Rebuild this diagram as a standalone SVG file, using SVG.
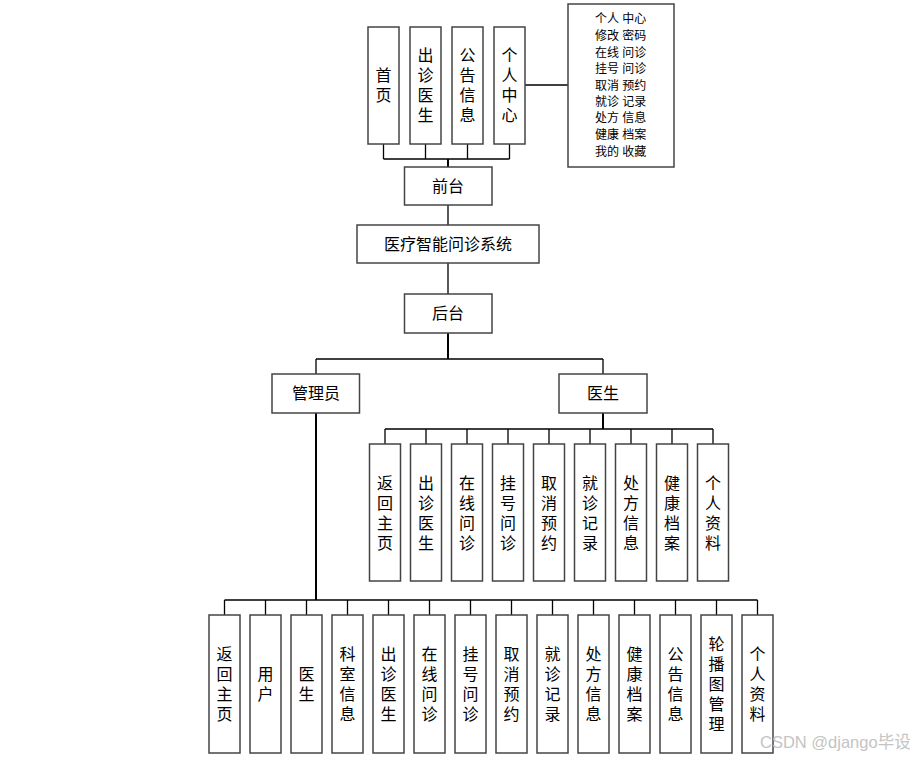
<svg xmlns="http://www.w3.org/2000/svg" width="917" height="757" viewBox="0 0 917 757">
<style>
.box{fill:#fff;stroke:#444;stroke-width:1.5}
.ln{fill:none;stroke:#000;stroke-width:1.3}
.th{fill:none;stroke:#000;stroke-width:2}
.t{font-family:"Liberation Sans","Noto Sans CJK SC",sans-serif;font-size:16px;fill:#000;text-anchor:middle}
.s{font-family:"Liberation Sans","Noto Sans CJK SC",sans-serif;font-size:12px;fill:#000}
.wm{font-family:"Liberation Sans","Noto Sans CJK SC",sans-serif;font-size:16.5px;fill:#c4c4c4}
</style>
<rect width="917" height="757" fill="#fff"/>
<g id="connectors">
<path class="ln" d="M383.5 144V159M425.5 144V159M467.5 144V159M509.5 144V159M383.5 159H509.5"/>
<path class="th" d="M448 159V167"/>
<path class="ln" d="M525 85H568"/>
<path class="ln" d="M448 205V225M448 263V294"/>
<path class="th" d="M448 333V359"/>
<path class="ln" d="M316 359H603M316 359V374M603 359V374"/>
<path class="th" d="M316 413V600M603 413V429"/>
<path class="ln" d="M385 429H713M385 429V444M426 429V444M467 429V444M508 429V444M549 429V444M590 429V444M631 429V444M672 429V444M713 429V444"/>
<path class="ln" d="M224.5 600H757.5M224.5 600V615M265.5 600V615M306.5 600V615M347.5 600V615M388.5 600V615M429.5 600V615M470.5 600V615M511.5 600V615M552.5 600V615M593.5 600V615M634.5 600V615M675.5 600V615M716.5 600V615M757.5 600V615"/>
</g>
<g id="n-shouye"><rect class="box" x="368" y="27" width="31" height="117"/><text class="t"><tspan x="383.5" y="81">首</tspan><tspan x="383.5" y="101">页</tspan></text></g>
<g id="n-czys"><rect class="box" x="410" y="27" width="31" height="117"/><text class="t"><tspan x="425.5" y="61">出</tspan><tspan x="425.5" y="81">诊</tspan><tspan x="425.5" y="101">医</tspan><tspan x="425.5" y="121">生</tspan></text></g>
<g id="n-ggxx"><rect class="box" x="452" y="27" width="31" height="117"/><text class="t"><tspan x="467.5" y="61">公</tspan><tspan x="467.5" y="81">告</tspan><tspan x="467.5" y="101">信</tspan><tspan x="467.5" y="121">息</tspan></text></g>
<g id="n-grzx"><rect class="box" x="494" y="27" width="31" height="117"/><text class="t"><tspan x="509.5" y="61">个</tspan><tspan x="509.5" y="81">人</tspan><tspan x="509.5" y="101">中</tspan><tspan x="509.5" y="121">心</tspan></text></g>
<g id="n-list"><rect class="box" x="568" y="4" width="106" height="163"/>
<text class="s"><tspan x="595" y="23">个人 中心</tspan><tspan x="595" y="40">修改 密码</tspan><tspan x="595" y="57">在线 问诊</tspan><tspan x="595" y="73">挂号 问诊</tspan><tspan x="595" y="90">取消 预约</tspan><tspan x="595" y="106">就诊 记录</tspan><tspan x="595" y="122">处方 信息</tspan><tspan x="595" y="139">健康 档案</tspan><tspan x="595" y="156">我的 收藏</tspan></text></g>
<g id="n-qiantai"><rect class="box" x="404.5" y="167" width="87.5" height="38"/><text class="t" x="448" y="192">前台</text></g>
<g id="n-system"><rect class="box" x="357" y="225" width="182" height="38"/><text class="t" x="448" y="250">医疗智能问诊系统</text></g>
<g id="n-houtai"><rect class="box" x="404.5" y="294" width="87.5" height="39"/><text class="t" x="448" y="319">后台</text></g>
<g id="n-admin"><rect class="box" x="272" y="374" width="87.5" height="39"/><text class="t" x="316" y="399">管理员</text></g>
<g id="n-doctor"><rect class="box" x="559" y="374" width="88" height="39"/><text class="t" x="603" y="399">医生</text></g>
<g id="doctor-children">
<g id="d1"><rect class="box" x="369.5" y="444" width="31" height="137"/><text class="t"><tspan x="385" y="489">返</tspan><tspan x="385" y="509">回</tspan><tspan x="385" y="529">主</tspan><tspan x="385" y="549">页</tspan></text></g>
<g id="d2"><rect class="box" x="410.5" y="444" width="31" height="137"/><text class="t"><tspan x="426" y="489">出</tspan><tspan x="426" y="509">诊</tspan><tspan x="426" y="529">医</tspan><tspan x="426" y="549">生</tspan></text></g>
<g id="d3"><rect class="box" x="451.5" y="444" width="31" height="137"/><text class="t"><tspan x="467" y="489">在</tspan><tspan x="467" y="509">线</tspan><tspan x="467" y="529">问</tspan><tspan x="467" y="549">诊</tspan></text></g>
<g id="d4"><rect class="box" x="492.5" y="444" width="31" height="137"/><text class="t"><tspan x="508" y="489">挂</tspan><tspan x="508" y="509">号</tspan><tspan x="508" y="529">问</tspan><tspan x="508" y="549">诊</tspan></text></g>
<g id="d5"><rect class="box" x="533.5" y="444" width="31" height="137"/><text class="t"><tspan x="549" y="489">取</tspan><tspan x="549" y="509">消</tspan><tspan x="549" y="529">预</tspan><tspan x="549" y="549">约</tspan></text></g>
<g id="d6"><rect class="box" x="574.5" y="444" width="31" height="137"/><text class="t"><tspan x="590" y="489">就</tspan><tspan x="590" y="509">诊</tspan><tspan x="590" y="529">记</tspan><tspan x="590" y="549">录</tspan></text></g>
<g id="d7"><rect class="box" x="615.5" y="444" width="31" height="137"/><text class="t"><tspan x="631" y="489">处</tspan><tspan x="631" y="509">方</tspan><tspan x="631" y="529">信</tspan><tspan x="631" y="549">息</tspan></text></g>
<g id="d8"><rect class="box" x="656.5" y="444" width="31" height="137"/><text class="t"><tspan x="672" y="489">健</tspan><tspan x="672" y="509">康</tspan><tspan x="672" y="529">档</tspan><tspan x="672" y="549">案</tspan></text></g>
<g id="d9"><rect class="box" x="697.5" y="444" width="31" height="137"/><text class="t"><tspan x="713" y="489">个</tspan><tspan x="713" y="509">人</tspan><tspan x="713" y="529">资</tspan><tspan x="713" y="549">料</tspan></text></g>
</g>
<g id="admin-children">
<g id="a1"><rect class="box" x="209" y="615" width="31" height="138"/><text class="t"><tspan x="224.5" y="660">返</tspan><tspan x="224.5" y="680">回</tspan><tspan x="224.5" y="700">主</tspan><tspan x="224.5" y="720">页</tspan></text></g>
<g id="a2"><rect class="box" x="250" y="615" width="31" height="138"/><text class="t"><tspan x="265.5" y="680">用</tspan><tspan x="265.5" y="700">户</tspan></text></g>
<g id="a3"><rect class="box" x="291" y="615" width="31" height="138"/><text class="t"><tspan x="306.5" y="680">医</tspan><tspan x="306.5" y="700">生</tspan></text></g>
<g id="a4"><rect class="box" x="332" y="615" width="31" height="138"/><text class="t"><tspan x="347.5" y="660">科</tspan><tspan x="347.5" y="680">室</tspan><tspan x="347.5" y="700">信</tspan><tspan x="347.5" y="720">息</tspan></text></g>
<g id="a5"><rect class="box" x="373" y="615" width="31" height="138"/><text class="t"><tspan x="388.5" y="660">出</tspan><tspan x="388.5" y="680">诊</tspan><tspan x="388.5" y="700">医</tspan><tspan x="388.5" y="720">生</tspan></text></g>
<g id="a6"><rect class="box" x="414" y="615" width="31" height="138"/><text class="t"><tspan x="429.5" y="660">在</tspan><tspan x="429.5" y="680">线</tspan><tspan x="429.5" y="700">问</tspan><tspan x="429.5" y="720">诊</tspan></text></g>
<g id="a7"><rect class="box" x="455" y="615" width="31" height="138"/><text class="t"><tspan x="470.5" y="660">挂</tspan><tspan x="470.5" y="680">号</tspan><tspan x="470.5" y="700">问</tspan><tspan x="470.5" y="720">诊</tspan></text></g>
<g id="a8"><rect class="box" x="496" y="615" width="31" height="138"/><text class="t"><tspan x="511.5" y="660">取</tspan><tspan x="511.5" y="680">消</tspan><tspan x="511.5" y="700">预</tspan><tspan x="511.5" y="720">约</tspan></text></g>
<g id="a9"><rect class="box" x="537" y="615" width="31" height="138"/><text class="t"><tspan x="552.5" y="660">就</tspan><tspan x="552.5" y="680">诊</tspan><tspan x="552.5" y="700">记</tspan><tspan x="552.5" y="720">录</tspan></text></g>
<g id="a10"><rect class="box" x="578" y="615" width="31" height="138"/><text class="t"><tspan x="593.5" y="660">处</tspan><tspan x="593.5" y="680">方</tspan><tspan x="593.5" y="700">信</tspan><tspan x="593.5" y="720">息</tspan></text></g>
<g id="a11"><rect class="box" x="619" y="615" width="31" height="138"/><text class="t"><tspan x="634.5" y="660">健</tspan><tspan x="634.5" y="680">康</tspan><tspan x="634.5" y="700">档</tspan><tspan x="634.5" y="720">案</tspan></text></g>
<g id="a12"><rect class="box" x="660" y="615" width="31" height="138"/><text class="t"><tspan x="675.5" y="660">公</tspan><tspan x="675.5" y="680">告</tspan><tspan x="675.5" y="700">信</tspan><tspan x="675.5" y="720">息</tspan></text></g>
<g id="a13"><rect class="box" x="701" y="615" width="31" height="138"/><text class="t"><tspan x="716.5" y="650">轮</tspan><tspan x="716.5" y="670">播</tspan><tspan x="716.5" y="690">图</tspan><tspan x="716.5" y="710">管</tspan><tspan x="716.5" y="730">理</tspan></text></g>
<g id="a14"><rect class="box" x="742" y="615" width="31" height="138"/><text class="t"><tspan x="757.5" y="660">个</tspan><tspan x="757.5" y="680">人</tspan><tspan x="757.5" y="700">资</tspan><tspan x="757.5" y="720">料</tspan></text></g>
</g>
<text class="wm" x="760" y="748">CSDN @django毕设</text>
</svg>
